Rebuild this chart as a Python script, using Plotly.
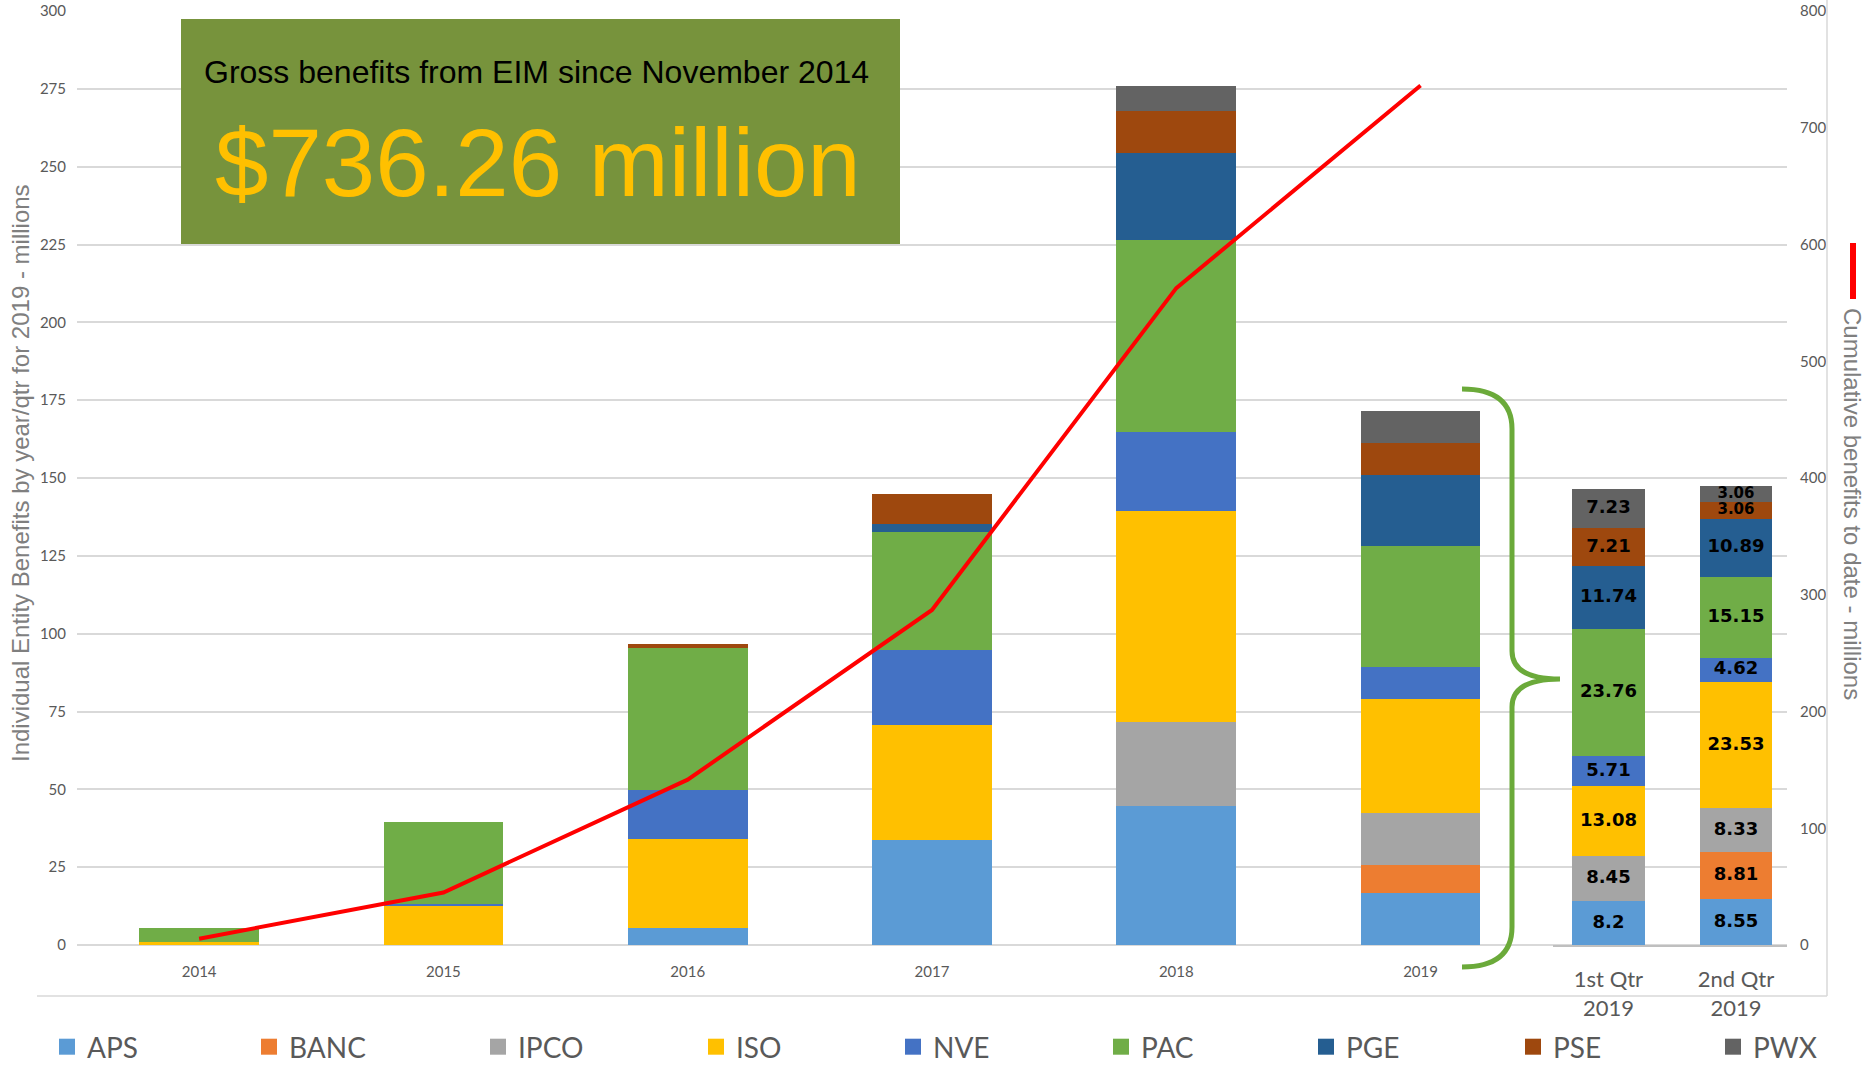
import plotly.graph_objects as go

# ---- data -------------------------------------------------------------
years = ["2014", "2015", "2016", "2017", "2018", "2019"]
quarters = ["1st Qtr<br>2019", "2nd Qtr<br>2019"]
entities = ["APS", "BANC", "IPCO", "ISO", "NVE", "PAC", "PGE", "PSE", "PWX"]
colors = ["#5B9BD5", "#ED7D31", "#A5A5A5", "#FFC000", "#4472C4",
          "#70AD47", "#255E91", "#9E480E", "#636363"]

# yearly benefits by entity ($ millions)
aps_year = [0, 0, 5.6, 33.8, 44.7, 16.75]
banc_year = [0, 0, 0, 0, 0, 8.81]
ipco_year = [0, 0, 0, 0, 26.8, 16.78]
iso_year = [1.0, 12.4, 28.5, 36.9, 67.9, 36.61]
nve_year = [0, 0.7, 15.6, 24.0, 25.5, 10.33]
pac_year = [4.4, 26.5, 45.7, 37.8, 61.7, 38.91]
pge_year = [0, 0, 0, 2.6, 27.7, 22.63]
pse_year = [0, 0, 1.4, 9.8, 13.5, 10.27]
pwx_year = [0, 0, 0, 0, 8.0, 10.29]

# 2019 quarterly benefits by entity ($ millions)
aps_qtr = [8.2, 8.55]
banc_qtr = [None, 8.81]
ipco_qtr = [8.45, 8.33]
iso_qtr = [13.08, 23.53]
nve_qtr = [5.71, 4.62]
pac_qtr = [23.76, 15.15]
pge_qtr = [11.74, 10.89]
pse_qtr = [7.21, 3.06]
pwx_qtr = [7.23, 3.06]

# cumulative gross benefits to date ($ millions)
cumulative = [5.4, 45.0, 141.6, 287.0, 562.6, 736.26]

yearly = [aps_year, banc_year, ipco_year, iso_year, nve_year,
          pac_year, pge_year, pse_year, pwx_year]
quarterly = [aps_qtr, banc_qtr, ipco_qtr, iso_qtr, nve_qtr,
             pac_qtr, pge_qtr, pse_qtr, pwx_qtr]

# ---- page geometry (pixels -> paper fractions) -------------------------
W, H = 1868, 1072


def fx(x):
    return x / W


def fy(y):
    return 1 - y / H


PLOT_L, PLOT_R, PLOT_T, PLOT_B = 77, 1787, 11, 945
QTR_L = 1553
GRAY = "#595959"
TITLE_GRAY = "#7f7f7f"

# horizontal centre of each legend swatch along the bottom row
legend_swatch_x = [65, 267, 496, 714, 911, 1119, 1324, 1531, 1731]

fig = go.Figure()

qtr_base = [0.0, 0.0]
for k, (name, col, yv, qv) in enumerate(zip(entities, colors, yearly, quarterly)):
    fig.add_trace(go.Bar(
        x=years, y=yv, name=name, marker=dict(color=col, line=dict(width=0)),
        width=0.49, xaxis="x", yaxis="y", showlegend=False, hoverinfo="x+y+name"))
    fig.add_trace(go.Bar(
        x=quarters, y=qv, name=name, marker=dict(color=col, line=dict(width=0)),
        width=0.565, xaxis="x2", yaxis="y2", showlegend=False,
        hoverinfo="x+y+name"))
    # value labels centred on each quarterly segment
    mids, labels, sizes = [], [], []
    for i, v in enumerate(qv):
        if v is None:
            mids.append(None)
            labels.append("")
            sizes.append(18)
        else:
            mids.append(qtr_base[i] + v / 2)
            labels.append(f"{v:g}")
            sizes.append(15 if v < 4 else 18)
            qtr_base[i] += v
    fig.add_trace(go.Scatter(
        x=quarters, y=mids, text=labels, mode="text", textposition="middle center",
        textfont=dict(family="DejaVu Sans", size=sizes, color="black", weight="bold"),
        xaxis="x2", yaxis="y2", showlegend=False, hoverinfo="skip"))
    # legend swatch, each entity in its own legend box so the row can be spaced freely
    fig.add_trace(go.Scatter(
        x=[None], y=[None], mode="markers", name=name,
        legend="legend" if k == 0 else f"legend{k + 1}",
        marker=dict(symbol="square", size=16, color=col), xaxis="x", yaxis="y"))

fig.add_trace(go.Scatter(
    x=years, y=cumulative, mode="lines", name="Cumulative",
    line=dict(color="#FF0000", width=4), xaxis="x", yaxis="y3", showlegend=False))

tickfont = dict(family="Lato", size=15, color=GRAY)

fig.update_layout(
    width=W, height=H,
    margin=dict(l=0, r=0, t=0, b=0),
    paper_bgcolor="white", plot_bgcolor="rgba(0,0,0,0)",
    barmode="stack",
    font=dict(family="Lato", color=GRAY),
    xaxis=dict(
        domain=[fx(PLOT_L), fx(PLOT_R)], type="category",
        categoryorder="array", categoryarray=years, range=[-0.5, 6.5],
        showgrid=False, showline=False, zeroline=False, ticks="",
        tickfont=tickfont, ticklabelstandoff=16, anchor="y", automargin=False),
    yaxis=dict(
        domain=[fy(PLOT_B), fy(PLOT_T)], range=[0, 300], dtick=25,
        showgrid=True, gridcolor="#d9d9d9", gridwidth=2,
        zeroline=True, zerolinecolor="#d9d9d9", zerolinewidth=2,
        showline=False, ticks="", tickfont=tickfont, ticklabelstandoff=10,
        anchor="x", automargin=False),
    yaxis3=dict(
        overlaying="y", side="right", anchor="free", position=fx(PLOT_R),
        range=[0, 800], dtick=100, showgrid=False, zeroline=False,
        showline=False, ticks="", tickfont=tickfont, ticklabelstandoff=12,
        automargin=False),
    xaxis2=dict(
        domain=[fx(QTR_L), fx(PLOT_R)], type="category",
        categoryorder="array", categoryarray=quarters, range=[-0.435, 1.40],
        showgrid=False, zeroline=False, showline=True,
        linecolor="#bfbfbf", linewidth=2, ticks="",
        tickfont=dict(family="Lato", size=22, color=GRAY),
        ticklabelstandoff=14, anchor="y2", automargin=False),
    yaxis2=dict(
        domain=[fy(PLOT_B), fy(PLOT_T)], range=[0, 175], visible=False,
        showgrid=False, zeroline=False, anchor="x2"),
)

for k, sx in enumerate(legend_swatch_x):
    key = "legend" if k == 0 else f"legend{k + 1}"
    fig.update_layout({key: dict(
        orientation="h", x=fx(sx - 18), xanchor="left", y=0, yanchor="bottom",
        font=dict(family="Lato", size=28, color=GRAY),
        bgcolor="rgba(0,0,0,0)")})

# brace linking the 2019 total to its quarters
bx0, bx1, btip = 1462, 1512, 1560
by0, bmid, by1 = 389, 679, 967
brace = (
    f"M {fx(bx0)},{fy(by0)} Q {fx(bx1)},{fy(by0)} {fx(bx1)},{fy(by0 + 40)} "
    f"L {fx(bx1)},{fy(bmid - 28)} Q {fx(bx1)},{fy(bmid)} {fx(btip)},{fy(bmid)} "
    f"Q {fx(bx1)},{fy(bmid)} {fx(bx1)},{fy(bmid + 28)} "
    f"L {fx(bx1)},{fy(by1 - 40)} Q {fx(bx1)},{fy(by1)} {fx(bx0)},{fy(by1)}"
)

shapes = [
    # chart frame (bottom and right edges)
    dict(type="line", xref="paper", yref="paper", x0=fx(37), x1=fx(1827),
         y0=fy(996), y1=fy(996), line=dict(color="#d9d9d9", width=1.5)),
    dict(type="line", xref="paper", yref="paper", x0=fx(1827), x1=fx(1827),
         y0=fy(0), y1=fy(996), line=dict(color="#d9d9d9", width=1.5)),
    # headline box
    dict(type="rect", xref="paper", yref="paper", x0=fx(181), x1=fx(900),
         y0=fy(244), y1=fy(19), fillcolor="#77933C", line=dict(width=0),
         layer="above"),
    # brace
    dict(type="path", xref="paper", yref="paper", path=brace,
         line=dict(color="#6BAA3A", width=5), layer="above"),
    # key for the cumulative line
    dict(type="line", xref="paper", yref="paper", x0=fx(1853), x1=fx(1853),
         y0=fy(243), y1=fy(299), line=dict(color="#FF0000", width=6)),
]
fig.update_layout(shapes=shapes)

annotations = [
    dict(text="Gross benefits from EIM since November 2014", x=fx(536), y=fy(72),
         xref="paper", yref="paper", showarrow=False, xanchor="center",
         yanchor="middle",
         font=dict(family="Liberation Sans, Arial", size=32, color="black")),
    dict(text="$736.26 million", x=fx(538), y=fy(162),
         xref="paper", yref="paper", showarrow=False, xanchor="center",
         yanchor="middle",
         font=dict(family="Liberation Sans, Arial", size=96, color="#FFC000")),
    dict(text="Individual Entity Benefits by year/qtr for 2019 - millions",
         x=fx(20), y=fy(473), xref="paper", yref="paper", showarrow=False,
         textangle=-90, xanchor="center", yanchor="middle",
         font=dict(family="Liberation Sans, Arial", size=24, color=TITLE_GRAY)),
    dict(text="Cumulative benefits to date - millions",
         x=fx(1853), y=fy(504), xref="paper", yref="paper", showarrow=False,
         textangle=90, xanchor="center", yanchor="middle",
         font=dict(family="Liberation Sans, Arial", size=24, color=TITLE_GRAY)),
]
fig.update_layout(annotations=annotations)

fig.write_html("out.html")
